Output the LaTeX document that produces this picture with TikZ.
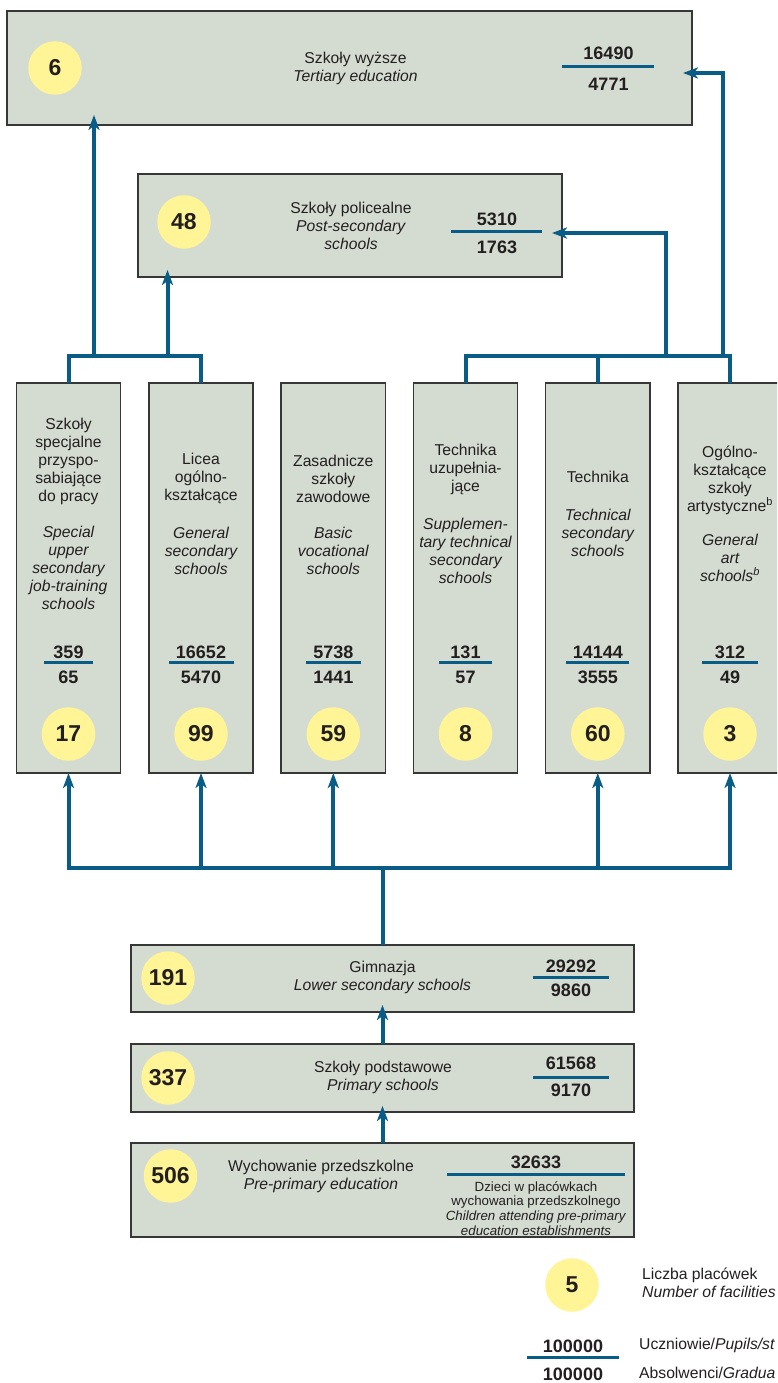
\documentclass[tikz,border=0pt]{standalone}
\usepackage{fontspec}
\setmainfont{Liberation Sans}
\usetikzlibrary{arrows.meta,calc}
\definecolor{boxfill}{RGB}{212,220,209}
\definecolor{boxline}{RGB}{55,55,55}
\definecolor{discfill}{RGB}{255,245,150}
\definecolor{flow}{RGB}{8,92,133}
\definecolor{txt}{RGB}{35,31,32}
\begin{document}
\begin{tikzpicture}[x=1pt,y=-1pt,
  box/.style={draw=boxline,line width=1.4pt,fill=boxfill,inner sep=0pt,outer sep=0pt},
  disc/.style={circle,fill=discfill,inner sep=0pt,minimum size=53.5pt,text=txt,font=\bfseries\fontsize{23}{23}\selectfont},
  lbl/.style={align=center,inner sep=0pt,text=txt,font=\fontsize{15.7}{18}\selectfont},
  ilbl/.style={align=center,inner sep=0pt,text=txt,font=\itshape\fontsize{15.7}{18}\selectfont},
  num/.style={inner sep=0pt,text=txt,font=\bfseries\fontsize{18}{20}\selectfont},
  small/.style={align=center,inner sep=0pt,text=txt,font=\fontsize{13.3}{14.7}\selectfont},
  conn/.style={draw=flow,line width=4pt},
  hconn/.style={conn,line cap=rect},
  arr/.style={conn,-{Stealth[length=15pt,width=11pt,inset=4pt]}},
  frac/.style={draw=flow,line width=3pt},
  colbox/.style={box,minimum width=104.3pt,minimum height=390pt}]

\useasboundingbox (0,0) rectangle (777,1383);
\fill[white] (0,0) rectangle (777,1383);
\clip (0,0) rectangle (777,1383);

% ---------- Tertiary ----------
\node[box,minimum width=685pt,minimum height=114pt] (tert) at (349.5,68) {};
\node[disc] (dtert) at (55,68) {6};
\node[lbl] (ltert) at (355.5,68) {Szkoły wyższe\\\textit{Tertiary education}};
\node[num] (ntertA) at (608.5,53) {16490};
\draw[frac] (562,67) -- (654,67);
\node[num] (ntertB) at (608.5,84) {4771};

% ---------- Post-secondary ----------
\node[box,minimum width=424pt,minimum height=103pt] (post) at (350,225.5) {};
\node[disc] (dpost) at (184,222) {48};
\node[lbl] (lpost) at (351,226) {Szkoły policealne\\\textit{Post-secondary}\\\textit{schools}};
\node[num] (npostA) at (497,219) {5310};
\draw[frac] (451,231) -- (542,231);
\node[num] (npostB) at (497,247) {1763};

% ---------- Columns ----------
\node[colbox] (c1) at (68.5,578) {};
\node[lbl] (p1) at (68.5,461) {Szkoły\\specjalne\\przyspo-\\sabiające\\do pracy};
\node[ilbl] (e1) at (68.5,568) {Special\\upper\\secondary\\job-training\\schools};
\node[num] (a1) at (68.5,652.5) {359};
\draw[frac] (44,662) -- (93,662);
\node[num] (b1) at (68.5,677) {65};
\node[disc] (d1) at (68.5,734) {17};

\node[colbox] (c2) at (201,578) {};
\node[lbl] (p2) at (201,478.5) {Licea\\ogólno-\\kształcące};
\node[ilbl] (e2) at (201,550.5) {General\\secondary\\schools};
\node[num] (a2) at (201,652.5) {16652};
\draw[frac] (168.5,662) -- (233.5,662);
\node[num] (b2) at (201,677) {5470};
\node[disc] (d2) at (201,734) {99};

\node[colbox] (c3) at (333.3,578) {};
\node[lbl] (p3) at (333.3,478.5) {Zasadnicze\\szkoły\\zawodowe};
\node[ilbl] (e3) at (333.3,550.5) {Basic\\vocational\\schools};
\node[num] (a3) at (333.3,652.5) {5738};
\draw[frac] (306,662) -- (361,662);
\node[num] (b3) at (333.3,677) {1441};
\node[disc] (d3) at (333.3,734) {59};

\node[colbox] (c4) at (465.5,578) {};
\node[lbl] (p4) at (465.5,469.5) {Technika\\uzupełnia-\\jące};
\node[ilbl] (e4) at (465.5,550.5) {Supplemen-\\tary technical\\secondary\\schools};
\node[num] (a4) at (465.5,652.5) {131};
\draw[frac] (439,662) -- (492,662);
\node[num] (b4) at (465.5,677) {57};
\node[disc] (d4) at (465.5,734) {8};

\node[colbox] (c5) at (597.8,578) {};
\node[lbl] (p5) at (597.8,477) {Technika};
\node[ilbl] (e5) at (597.8,532.5) {Technical\\secondary\\schools};
\node[num] (a5) at (597.8,652.5) {14144};
\draw[frac] (566,662) -- (629,662);
\node[num] (b5) at (597.8,677) {3555};
\node[disc] (d5) at (597.8,734) {60};

\node[colbox] (c6) at (730,578) {};
\node[lbl] (p6) at (730,480) {Ogólno-\\kształcące\\szkoły\\artystyczne\textsuperscript{b}};
\node[ilbl] (e6) at (730,557.5) {General\\art\\schools\textsuperscript{b}};
\node[num] (a6) at (730,652.5) {312};
\draw[frac] (702,662) -- (758,662);
\node[num] (b6) at (730,677) {49};
\node[disc] (d6) at (730,734) {3};

% ---------- Lower boxes ----------
\node[box,minimum width=503pt,minimum height=67pt] (gim) at (382.5,978.5) {};
\node[disc] (dgim) at (168,978) {191};
\node[lbl] (lgim) at (382.5,977.5) {Gimnazja\\\textit{Lower secondary schools}};
\node[num] (ngimA) at (571,966) {29292};
\draw[frac] (533,977.5) -- (609,977.5);
\node[num] (ngimB) at (571,990.5) {9860};

\node[box,minimum width=503pt,minimum height=68pt] (prim) at (382.5,1078) {};
\node[disc] (dprim) at (168,1078) {337};
\node[lbl] (lprim) at (383,1077.5) {Szkoły podstawowe\\\textit{Primary schools}};
\node[num] (nprimA) at (571,1063) {61568};
\draw[frac] (533,1077) -- (609,1077);
\node[num] (nprimB) at (571,1090) {9170};

\node[box,minimum width=503pt,minimum height=94pt] (pre) at (382.5,1190) {};
\node[disc] (dpre) at (170.5,1176) {506};
\node[lbl] (lpre) at (321,1176.5) {Wychowanie przedszkolne\\\textit{Pre-primary education}};
\node[num] (npreA) at (536,1162) {32633};
\draw[frac] (447,1174) -- (625,1174);
\node[small] (spre) at (536,1208.5) {Dzieci w placówkach\\wychowania przedszkolnego\\\textit{Children attending pre-primary}\\\textit{education establishments}};

% ---------- Connectors (top) ----------
\coordinate (hL) at (0,355.5);
\coordinate (tipT) at (94,115);
\coordinate (tipP) at (167.5,270);
\coordinate (tipP2) at (552,233);
\coordinate (kP) at (666,0);
\coordinate (tipT2) at (683,73);
\coordinate (kT) at (723,0);
\draw[conn] (c1.north) |- (hL -| c2.north) -- (c2.north);
\draw[arr] (tipT |- hL) -- (tipT);
\draw[arr] (tipP |- hL) -- (tipP);
\draw[conn] (c4.north) |- (hL -| c6.north) -- (c6.north);
\draw[conn] (c5.north) -- (c5.north |- hL);
\draw[arr] (kP |- hL) |- (tipP2);
\draw[arr] (kT |- hL) |- (tipT2);

% ---------- Connectors (bottom) ----------
\coordinate (hB) at (0,868);
\coordinate (tipG) at (382.5,1005);
\coordinate (tipPr) at (382.5,1106);
\draw[hconn] (c1.south |- hB) -- (c6.south |- hB);
\foreach \c in {c1,c2,c3,c5,c6} \draw[arr] (\c.south |- hB) -- (\c.south);
\draw[conn] (gim.north) -- (gim.north |- hB);
\draw[arr] (prim.north) -- (tipG);
\draw[arr] (pre.north) -- (tipPr);

% ---------- Legend ----------
\node[disc] (dleg) at (572,1285) {5};
\node[lbl,align=left,anchor=west] (lleg) at (642,1282.5) {Liczba placówek\\\textit{Number of facilities}};
\node[num] (nlegA) at (573,1346) {100000};
\draw[frac] (527,1357) -- (619,1357);
\node[num] (nlegB) at (573,1374) {100000};
\node[lbl,anchor=west] (ulegA) at (639,1345) {Uczniowie/\textit{Pupils/st}};
\node[lbl,anchor=west] (ulegB) at (639,1373) {Absolwenci/\textit{Gradua}};
\end{tikzpicture}
\end{document}
